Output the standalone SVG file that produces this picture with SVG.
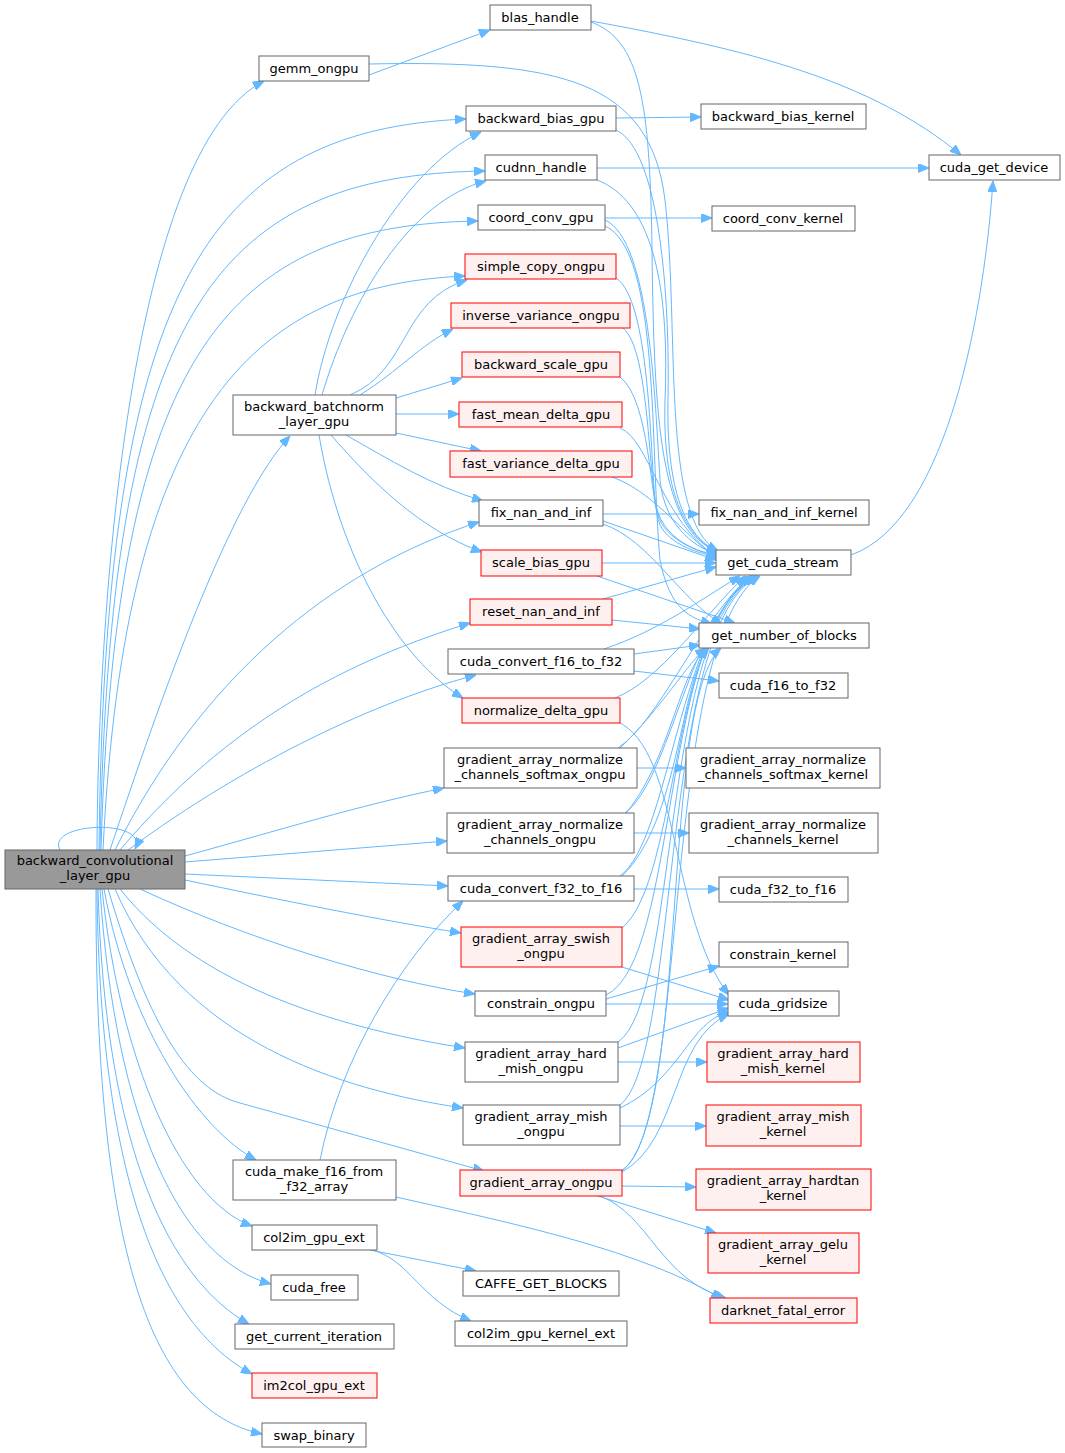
<svg xmlns="http://www.w3.org/2000/svg" width="1065" height="1453" viewBox="0 0 1065 1453">
<style>
.g rect{fill:#ffffff;stroke:#666666;stroke-width:1}
.r rect{fill:#fff0f0;stroke:#ff0000;stroke-width:1}
.m rect{fill:#999999;stroke:#666666;stroke-width:1}
text{font-family:"DejaVu Sans","Liberation Sans",sans-serif;font-size:13px;fill:#000000;text-anchor:middle}
#edges path{fill:none;stroke:#63b8ff;stroke-width:1;marker-end:url(#a)}
</style>
<defs>
<marker id="a" viewBox="0 0 11 9" refX="11" refY="4.5" markerWidth="11" markerHeight="9" orient="auto" markerUnits="userSpaceOnUse">
<path d="M0,0 L11,4.5 L0,9 z" fill="#63b8ff" stroke="#63b8ff"/>
</marker>
</defs>
<rect width="1065" height="1453" fill="#ffffff"/>
<g id="edges">
<path d="M60,850 C45,822 150,818 135,849"/>
<path d="M97,850 C98,600 130,150 264,81"/>
<path d="M99,850 C105,300 200,130 466,119"/>
<path d="M100,850 C110,320 210,175 485,171"/>
<path d="M101,850 C115,350 230,225 478,221"/>
<path d="M103,850 C125,400 260,285 465,276"/>
<path d="M110,850 C160,700 230,500 290,436"/>
<path d="M115,850 C200,680 330,570 479,522"/>
<path d="M120,850 C230,720 350,660 470,623"/>
<path d="M128,850 C250,760 380,700 476,675"/>
<path d="M185,856 C280,830 360,805 444,788"/>
<path d="M185,862 L447,841"/>
<path d="M185,874 L448,886"/>
<path d="M185,880 C280,900 380,920 461,933"/>
<path d="M140,889 C250,940 380,980 475,994"/>
<path d="M120,889 C200,990 350,1030 465,1048"/>
<path d="M115,889 C180,1040 340,1090 463,1108"/>
<path d="M108,889 C150,1030 190,1090 240,1103 L484,1171"/>
<path d="M104,889 C130,1030 200,1130 256,1160"/>
<path d="M102,889 C120,1060 180,1200 252,1226"/>
<path d="M100,889 C115,1120 180,1260 271,1284"/>
<path d="M98,889 C105,1150 170,1280 249,1324"/>
<path d="M97,889 C100,1200 170,1330 252,1374"/>
<path d="M96,889 C95,1250 150,1410 262,1434"/>
<path d="M315,395 C330,300 400,170 481,132"/>
<path d="M322,395 C350,300 410,200 486,181"/>
<path d="M350,395 C410,370 400,300 467,280"/>
<path d="M360,395 C400,370 420,345 453,329"/>
<path d="M396,398 L462,378"/>
<path d="M396,414 L459,414"/>
<path d="M396,433 L481,451"/>
<path d="M346,435 C390,460 430,485 483,501"/>
<path d="M331,435 C370,480 420,530 482,552"/>
<path d="M319,435 C340,560 400,660 463,698"/>
<path d="M369,75 L490,30"/>
<path d="M369,64 C560,60 650,80 665,200 C680,330 660,520 718,551"/>
<path d="M591,22 C640,40 650,100 652,250 C654,420 660,530 718,552"/>
<path d="M616,130 C660,150 670,300 668,400 C666,500 690,540 719,552"/>
<path d="M597,180 C650,200 670,280 665,400 C662,500 690,540 719,553"/>
<path d="M605,220 C650,240 655,400 660,480 C665,530 700,550 718,554"/>
<path d="M605,226 C660,250 650,450 660,560 C670,610 690,618 712,624"/>
<path d="M616,278 C650,300 650,450 655,500 C660,540 700,553 718,555"/>
<path d="M623,328 C650,350 648,480 658,515 C665,540 700,553 718,556"/>
<path d="M620,377 C650,400 650,500 660,525 C670,545 700,554 718,557"/>
<path d="M620,428 C650,440 660,520 718,558"/>
<path d="M612,477 C650,490 680,530 717,559"/>
<path d="M603,514 L699,514"/>
<path d="M603,521 L716,560"/>
<path d="M603,524 C650,540 680,600 722,624"/>
<path d="M602,563 L716,563"/>
<path d="M597,576 L735,623"/>
<path d="M603,599 L716,567"/>
<path d="M612,620 L700,629"/>
<path d="M604,649 C660,630 700,600 740,576"/>
<path d="M634,654 L700,645"/>
<path d="M634,671 L719,681"/>
<path d="M615,698 C660,680 700,620 745,576"/>
<path d="M618,722 C680,750 670,920 729,995"/>
<path d="M618,748 C660,720 700,620 750,576"/>
<path d="M620,748 C660,710 690,660 706,648"/>
<path d="M637,768 L686,768"/>
<path d="M625,813 C670,780 690,620 752,576"/>
<path d="M626,813 C670,760 680,670 707,648"/>
<path d="M634,833 L689,833"/>
<path d="M620,876 C670,840 680,620 754,576"/>
<path d="M622,876 C680,820 680,680 709,648"/>
<path d="M634,889 L719,889"/>
<path d="M622,928 C680,880 670,620 756,576"/>
<path d="M622,967 L729,1000"/>
<path d="M606,999 L719,966"/>
<path d="M606,1004 L728,1004"/>
<path d="M606,995 C680,960 660,620 757,576"/>
<path d="M618,1042 C680,1000 660,620 758,576"/>
<path d="M618,1048 L729,1008"/>
<path d="M618,1062 L707,1062"/>
<path d="M620,1105 C680,1060 660,620 759,576"/>
<path d="M620,1108 C680,1080 690,1020 729,1012"/>
<path d="M620,1126 L706,1126"/>
<path d="M622,1170 C690,1130 660,640 760,576"/>
<path d="M622,1171 C690,1120 660,700 721,648"/>
<path d="M622,1172 C680,1140 670,1040 729,1014"/>
<path d="M622,1186 L696,1187"/>
<path d="M598,1196 L716,1233"/>
<path d="M600,1196 C650,1215 660,1280 726,1298"/>
<path d="M320,1160 C340,1060 400,960 463,901"/>
<path d="M396,1197 C520,1225 640,1250 722,1299"/>
<path d="M370,1250 L476,1271"/>
<path d="M372,1250 C410,1260 420,1300 471,1321"/>
<path d="M851,555 C950,520 985,300 993,181"/>
<path d="M591,21 C750,50 870,80 961,155"/>
<path d="M597,168 L929,168"/>
<path d="M616,118 L701,117"/>
<path d="M605,218 L712,218"/>
</g>
<g id="n_main" class="m"><rect x="5" y="850" width="180" height="39"/><text x="95" y="865">backward_convolutional</text><text x="95" y="880">_layer_gpu</text></g>
<g id="n_gemm" class="g"><rect x="259" y="56" width="110" height="25"/><text x="314" y="73">gemm_ongpu</text></g>
<g id="n_bbn" class="g"><rect x="233" y="395" width="163" height="40"/><text x="314" y="411">backward_batchnorm</text><text x="314" y="426">_layer_gpu</text></g>
<g id="n_cmf16" class="g"><rect x="233" y="1160" width="163" height="40"/><text x="314" y="1176">cuda_make_f16_from</text><text x="314" y="1191">_f32_array</text></g>
<g id="n_col2im" class="g"><rect x="252" y="1225" width="125" height="25"/><text x="314" y="1242">col2im_gpu_ext</text></g>
<g id="n_cfree" class="g"><rect x="271" y="1275" width="87" height="25"/><text x="314" y="1292">cuda_free</text></g>
<g id="n_gci" class="g"><rect x="235" y="1324" width="159" height="25"/><text x="314" y="1341">get_current_iteration</text></g>
<g id="n_im2col" class="r"><rect x="252" y="1373" width="125" height="25"/><text x="314" y="1390">im2col_gpu_ext</text></g>
<g id="n_swap" class="g"><rect x="262" y="1423" width="104" height="24"/><text x="314" y="1440">swap_binary</text></g>
<g id="n_blas" class="g"><rect x="490" y="5" width="101" height="25"/><text x="540" y="22">blas_handle</text></g>
<g id="n_bbg" class="g"><rect x="466" y="106" width="150" height="25"/><text x="541" y="123">backward_bias_gpu</text></g>
<g id="n_cudnn" class="g"><rect x="485" y="155" width="112" height="25"/><text x="541" y="172">cudnn_handle</text></g>
<g id="n_ccg" class="g"><rect x="478" y="205" width="127" height="25"/><text x="541" y="222">coord_conv_gpu</text></g>
<g id="n_sco" class="r"><rect x="465" y="254" width="151" height="25"/><text x="541" y="271">simple_copy_ongpu</text></g>
<g id="n_ivo" class="r"><rect x="451" y="303" width="179" height="25"/><text x="541" y="320">inverse_variance_ongpu</text></g>
<g id="n_bsg" class="r"><rect x="462" y="352" width="158" height="25"/><text x="541" y="369">backward_scale_gpu</text></g>
<g id="n_fmd" class="r"><rect x="459" y="402" width="163" height="25"/><text x="541" y="419">fast_mean_delta_gpu</text></g>
<g id="n_fvd" class="r"><rect x="450" y="451" width="182" height="26"/><text x="541" y="468">fast_variance_delta_gpu</text></g>
<g id="n_fni" class="g"><rect x="479" y="500" width="124" height="26"/><text x="541" y="517">fix_nan_and_inf</text></g>
<g id="n_sbg" class="r"><rect x="481" y="550" width="121" height="26"/><text x="541" y="567">scale_bias_gpu</text></g>
<g id="n_rni" class="r"><rect x="470" y="599" width="142" height="26"/><text x="541" y="616">reset_nan_and_inf</text></g>
<g id="n_c1632" class="g"><rect x="448" y="649" width="186" height="25"/><text x="541" y="666">cuda_convert_f16_to_f32</text></g>
<g id="n_ndg" class="r"><rect x="462" y="698" width="158" height="25"/><text x="541" y="715">normalize_delta_gpu</text></g>
<g id="n_gancso" class="g"><rect x="444" y="748" width="193" height="40"/><text x="540" y="764">gradient_array_normalize</text><text x="540" y="779">_channels_softmax_ongpu</text></g>
<g id="n_ganco" class="g"><rect x="447" y="813" width="187" height="40"/><text x="540" y="829">gradient_array_normalize</text><text x="540" y="844">_channels_ongpu</text></g>
<g id="n_c3216" class="g"><rect x="448" y="876" width="186" height="25"/><text x="541" y="893">cuda_convert_f32_to_f16</text></g>
<g id="n_gaso" class="r"><rect x="461" y="927" width="161" height="40"/><text x="541" y="943">gradient_array_swish</text><text x="541" y="958">_ongpu</text></g>
<g id="n_co" class="g"><rect x="475" y="991" width="131" height="25"/><text x="541" y="1008">constrain_ongpu</text></g>
<g id="n_gahmo" class="g"><rect x="465" y="1042" width="153" height="40"/><text x="541" y="1058">gradient_array_hard</text><text x="541" y="1073">_mish_ongpu</text></g>
<g id="n_gamo" class="g"><rect x="463" y="1105" width="157" height="40"/><text x="541" y="1121">gradient_array_mish</text><text x="541" y="1136">_ongpu</text></g>
<g id="n_gao" class="r"><rect x="460" y="1170" width="162" height="26"/><text x="541" y="1187">gradient_array_ongpu</text></g>
<g id="n_cgb" class="g"><rect x="463" y="1271" width="156" height="25"/><text x="541" y="1288">CAFFE_GET_BLOCKS</text></g>
<g id="n_c2ik" class="g"><rect x="455" y="1321" width="172" height="25"/><text x="541" y="1338">col2im_gpu_kernel_ext</text></g>
<g id="n_bbk" class="g"><rect x="701" y="104" width="165" height="25"/><text x="783" y="121">backward_bias_kernel</text></g>
<g id="n_cgd" class="g"><rect x="929" y="155" width="131" height="25"/><text x="994" y="172">cuda_get_device</text></g>
<g id="n_cck" class="g"><rect x="712" y="206" width="143" height="25"/><text x="783" y="223">coord_conv_kernel</text></g>
<g id="n_fnik" class="g"><rect x="699" y="500" width="170" height="25"/><text x="784" y="517">fix_nan_and_inf_kernel</text></g>
<g id="n_gcs" class="g"><rect x="716" y="550" width="135" height="25"/><text x="783" y="567">get_cuda_stream</text></g>
<g id="n_gnb" class="g"><rect x="699" y="623" width="170" height="25"/><text x="784" y="640">get_number_of_blocks</text></g>
<g id="n_cf1632" class="g"><rect x="719" y="673" width="129" height="25"/><text x="783" y="690">cuda_f16_to_f32</text></g>
<g id="n_gancsk" class="g"><rect x="686" y="748" width="194" height="40"/><text x="783" y="764">gradient_array_normalize</text><text x="783" y="779">_channels_softmax_kernel</text></g>
<g id="n_ganck" class="g"><rect x="689" y="813" width="189" height="40"/><text x="783" y="829">gradient_array_normalize</text><text x="783" y="844">_channels_kernel</text></g>
<g id="n_cf3216" class="g"><rect x="719" y="877" width="129" height="25"/><text x="783" y="894">cuda_f32_to_f16</text></g>
<g id="n_ck" class="g"><rect x="719" y="942" width="129" height="25"/><text x="783" y="959">constrain_kernel</text></g>
<g id="n_cgs" class="g"><rect x="728" y="991" width="111" height="25"/><text x="783" y="1008">cuda_gridsize</text></g>
<g id="n_gahmk" class="r"><rect x="707" y="1042" width="153" height="40"/><text x="783" y="1058">gradient_array_hard</text><text x="783" y="1073">_mish_kernel</text></g>
<g id="n_gamk" class="r"><rect x="706" y="1105" width="155" height="41"/><text x="783" y="1121">gradient_array_mish</text><text x="783" y="1136">_kernel</text></g>
<g id="n_gahtk" class="r"><rect x="696" y="1169" width="175" height="41"/><text x="783" y="1185">gradient_array_hardtan</text><text x="783" y="1200">_kernel</text></g>
<g id="n_gagk" class="r"><rect x="708" y="1233" width="151" height="40"/><text x="783" y="1249">gradient_array_gelu</text><text x="783" y="1264">_kernel</text></g>
<g id="n_dfe" class="r"><rect x="710" y="1298" width="147" height="25"/><text x="783" y="1315">darknet_fatal_error</text></g>
</svg>
